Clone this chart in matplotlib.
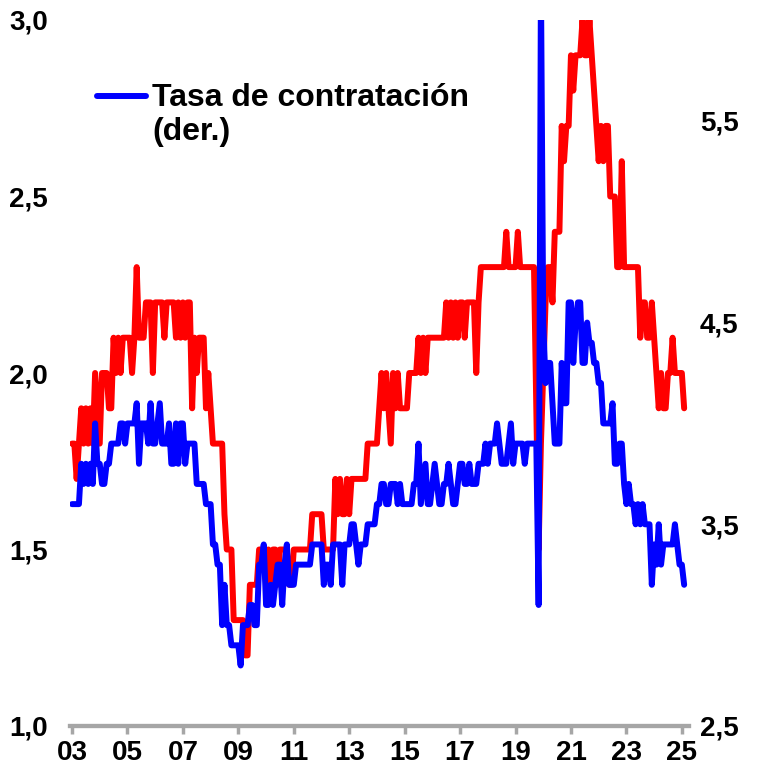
import matplotlib
matplotlib.use("Agg")
import matplotlib.pyplot as plt
from matplotlib.lines import Line2D

plt.rcParams['font.family'] = ['Liberation Sans', 'DejaVu Sans']

# Tasa de abandono (izq.), mensual
quits = [
    1.8, 1.8, 1.7, 1.8, 1.9, 1.8, 1.9, 1.8, 1.9, 1.8,
    2.0, 1.9, 1.8, 2.0, 2.0, 2.0, 1.9, 1.9, 2.1, 2.0,
    2.1, 2.0, 2.1, 2.1, 2.1, 2.1, 2.0, 2.1, 2.3, 2.1,
    2.1, 2.1, 2.2, 2.2, 2.2, 2.0, 2.2, 2.2, 2.2, 2.2,
    2.1, 2.2, 2.2, 2.2, 2.2, 2.1, 2.2, 2.1, 2.2, 2.1,
    2.2, 2.2, 1.9, 2.1, 2.0, 2.1, 2.1, 2.1, 1.9, 2.0,
    1.9, 1.8, 1.8, 1.8, 1.8, 1.8, 1.6, 1.5, 1.5, 1.5,
    1.3, 1.3, 1.3, 1.3, 1.3, 1.2, 1.2, 1.4, 1.4, 1.4,
    1.4, 1.5, 1.5, 1.5, 1.4, 1.5, 1.4, 1.5, 1.5, 1.4,
    1.5, 1.5, 1.5, 1.5, 1.4, 1.4, 1.5, 1.5, 1.5, 1.5,
    1.5, 1.5, 1.5, 1.5, 1.6, 1.6, 1.6, 1.6, 1.6, 1.5,
    1.5, 1.5, 1.5, 1.5, 1.7, 1.6, 1.7, 1.6, 1.6, 1.7,
    1.6, 1.7, 1.7, 1.7, 1.7, 1.7, 1.7, 1.7, 1.8, 1.8,
    1.8, 1.8, 1.8, 1.9, 2.0, 1.9, 2.0, 1.9, 1.8, 2.0,
    1.9, 2.0, 1.9, 1.9, 1.9, 1.9, 2.0, 2.0, 2.0, 2.0,
    2.1, 2.0, 2.1, 2.0, 2.1, 2.1, 2.1, 2.1, 2.1, 2.1,
    2.1, 2.1, 2.2, 2.1, 2.2, 2.1, 2.2, 2.1, 2.2, 2.2,
    2.1, 2.2, 2.2, 2.2, 2.2, 2.0, 2.2, 2.3, 2.3, 2.3,
    2.3, 2.3, 2.3, 2.3, 2.3, 2.3, 2.3, 2.3, 2.4, 2.3,
    2.3, 2.3, 2.3, 2.4, 2.3, 2.3, 2.3, 2.3, 2.3, 2.3,
    2.3, 1.9, 1.5, 1.8, 2.0, 2.2, 2.3, 2.3, 2.2, 2.4,
    2.4, 2.4, 2.7, 2.6, 2.7, 2.7, 2.9, 2.8, 2.9, 2.9,
    2.9, 3.0, 2.9, 2.9, 3.0, 2.9, 2.8, 2.7, 2.6, 2.7,
    2.6, 2.7, 2.7, 2.5, 2.5, 2.5, 2.3, 2.3, 2.6, 2.3,
    2.3, 2.3, 2.3, 2.3, 2.3, 2.3, 2.1, 2.2, 2.2, 2.1,
    2.1, 2.2, 2.1, 2.0, 1.9, 2.0, 1.9, 1.9, 2.0, 2.0,
    2.1, 2.0, 2.0, 2.0, 2.0, 1.9,
]

# Tasa de contratación (der.), mensual
hires = [
    3.6, 3.6, 3.6, 3.6, 3.8, 3.7, 3.8, 3.7, 3.8, 3.7,
    4.0, 3.8, 3.8, 3.7, 3.7, 3.8, 3.8, 3.9, 3.9, 3.9,
    3.9, 4.0, 4.0, 3.9, 4.0, 4.0, 4.0, 4.0, 4.1, 3.8,
    4.0, 4.0, 4.0, 3.9, 4.1, 3.9, 3.9, 4.0, 4.1, 3.9,
    3.9, 3.9, 4.0, 3.8, 3.8, 4.0, 3.8, 4.0, 4.0, 3.8,
    3.9, 3.9, 3.9, 3.9, 3.7, 3.7, 3.7, 3.7, 3.6, 3.6,
    3.6, 3.4, 3.4, 3.3, 3.3, 3.0, 3.2, 3.0, 3.0, 2.9,
    2.9, 2.9, 2.9, 2.8, 3.0, 3.0, 3.0, 3.1, 3.1, 3.0,
    3.0, 3.3, 3.3, 3.4, 3.1, 3.1, 3.2, 3.1, 3.2, 3.3,
    3.3, 3.1, 3.3, 3.4, 3.2, 3.2, 3.2, 3.3, 3.3, 3.3,
    3.3, 3.3, 3.3, 3.3, 3.4, 3.4, 3.4, 3.4, 3.4, 3.2,
    3.3, 3.3, 3.2, 3.4, 3.4, 3.4, 3.4, 3.2, 3.4, 3.4,
    3.4, 3.5, 3.5, 3.4, 3.3, 3.4, 3.4, 3.4, 3.5, 3.5,
    3.5, 3.5, 3.6, 3.6, 3.7, 3.7, 3.6, 3.6, 3.7, 3.7,
    3.7, 3.6, 3.7, 3.6, 3.6, 3.6, 3.6, 3.6, 3.7, 3.7,
    3.9, 3.6, 3.7, 3.8, 3.6, 3.6, 3.7, 3.8, 3.7, 3.6,
    3.6, 3.7, 3.7, 3.8, 3.7, 3.6, 3.6, 3.7, 3.8, 3.8,
    3.7, 3.7, 3.8, 3.7, 3.7, 3.7, 3.8, 3.8, 3.8, 3.9,
    3.8, 3.9, 3.9, 3.9, 4.0, 3.9, 3.8, 3.8, 3.8, 3.9,
    4.0, 3.8, 3.9, 3.9, 3.9, 3.9, 3.8, 3.9, 3.9, 3.9,
    3.9, 3.9, 3.1, 6.2, 4.5, 4.2, 4.3, 4.3, 4.1, 3.9,
    3.9, 3.9, 4.3, 4.1, 4.1, 4.6, 4.6, 4.3, 4.5, 4.6,
    4.6, 4.3, 4.3, 4.5, 4.4, 4.4, 4.3, 4.3, 4.2, 4.2,
    4.0, 4.0, 4.0, 4.0, 4.1, 3.8, 3.8, 3.9, 3.9, 3.7,
    3.6, 3.7, 3.6, 3.6, 3.5, 3.6, 3.5, 3.6, 3.5, 3.5,
    3.5, 3.2, 3.4, 3.3, 3.5, 3.3, 3.4, 3.4, 3.4, 3.4,
    3.4, 3.5, 3.4, 3.3, 3.3, 3.2,
]

tick_pos = [0, 24, 48, 72, 96, 120, 144, 168, 192, 216, 240, 264]
tick_labels = ["03", "05", "07", "09", "11", "13", "15", "17", "19", "21", "23", "25"]
left_ticks = [1.0, 1.5, 2.0, 2.5, 3.0]
right_ticks = [2.5, 3.5, 4.5, 5.5]

W, H = 757, 771
fig = plt.figure(figsize=(W / 100, H / 100), dpi=100)
ax = fig.add_axes([70 / W, 1 - 726 / H, 619 / W, 706 / H])
ax2 = ax.twinx()

x = list(range(len(quits)))
ax.plot(x, quits, color="#FF0000", lw=4.3, solid_joinstyle="round", solid_capstyle="round")
ax2.plot(x, hires, color="#0000FF", lw=4.3, solid_joinstyle="round", solid_capstyle="round")

ax.set_xlim(-0.87, 267.1)
ax.set_ylim(1.0, 3.0)
ax2.set_ylim(2.5, 6.0)

fs = 20
ax.set_xticks(tick_pos)
ax.set_xticklabels(tick_labels, fontsize=fs, fontweight="bold")
ax.set_yticks(left_ticks)
ax.set_yticklabels([f"{v:.1f}".replace(".", ",") for v in left_ticks], fontsize=fs, fontweight="bold")
ax2.set_yticks(right_ticks)
ax2.set_yticklabels([f"{v:.1f}".replace(".", ",") for v in right_ticks], fontsize=fs, fontweight="bold")

for a in (ax, ax2):
    for s in ("top", "left", "right"):
        a.spines[s].set_visible(False)
    a.spines["bottom"].set_color("#A6A6A6")
    a.spines["bottom"].set_linewidth(3)
ax.tick_params(axis="x", length=6, width=2.5, color="#A6A6A6", pad=4)
ax.tick_params(axis="y", length=0, pad=16)
ax2.tick_params(axis="y", length=0, pad=8)

# leyenda
fig.add_artist(Line2D([97 / W, 146 / W], [1 - 96 / H, 1 - 96 / H], transform=fig.transFigure,
                      color="#0000FF", lw=4.3, solid_capstyle="round"))
fig.text(152 / W, 1 - 115 / H, "Tasa de contratación\n(der.)", fontsize=23, fontweight="bold",
         ha="left", va="center", linespacing=1.2)

fig.savefig("out.png", dpi=100)
